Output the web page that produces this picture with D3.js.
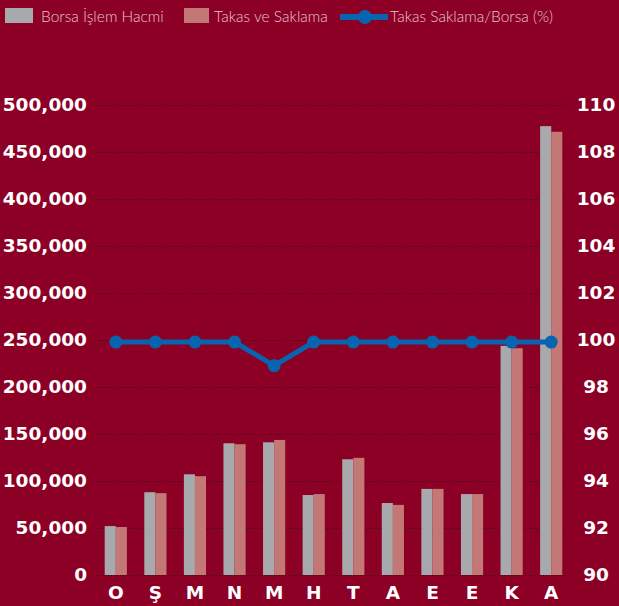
<!DOCTYPE html>
<html>
<head>
<meta charset="utf-8">
<script src="https://cdn.jsdelivr.net/npm/d3@7"></script>
<style>
  body { margin: 0; background: #8c0026; }
  svg { display: block; }
</style>
</head>
<body>
<div id="chart"></div>
<script>
// Chart data
var months = ["O", "Ş", "M", "N", "M", "H", "T", "A", "E", "E", "K", "A"];
var borsa = [52000, 88000, 107000, 140000, 141000, 85000, 123000, 76500, 91500, 86000, 243500, 477000];
var takas = [51000, 87000, 105000, 139000, 143500, 86000, 124500, 74500, 91500, 86000, 241000, 471000];
var ratio = [99.9, 99.9, 99.9, 99.9, 98.9, 99.9, 99.9, 99.9, 99.9, 99.9, 99.9, 99.9];
var leftTicks = [0, 50000, 100000, 150000, 200000, 250000, 300000, 350000, 400000, 450000, 500000];
var rightTicks = [90, 92, 94, 96, 98, 100, 102, 104, 106, 108, 110];
var seriesNames = ["Borsa İşlem Hacmi", "Takas ve Saklama", "Takas Saklama/Borsa (%)"];

var svgWidth = 619;
var svgHeight = 606;

var bg = "#8c0026";
var grayColor = "#a7a9ac";
var pinkColor = "#c47876";
var blueColor = "#0765b0";

var svg = d3.select("#chart").append("svg")
  .attr("width", svgWidth)
  .attr("height", svgHeight);

svg.append("rect")
  .attr("width", svgWidth)
  .attr("height", svgHeight)
  .attr("fill", bg);

// scales
var plotLeft = 96, plotRight = 566;
var x0 = d3.scaleBand()
  .domain(d3.range(months.length))
  .range([96, 571])
  .paddingInner(0.44)
  .paddingOuter(0.22);

var x1 = d3.scaleBand()
  .domain([0, 1])
  .range([0, x0.bandwidth()]);

var yLeft = d3.scaleLinear().domain([0, 500000]).range([575, 104.5]);
var yRight = d3.scaleLinear().domain([90, 110]).range([575, 104.5]);

// gridlines (dotted)
svg.append("g")
  .selectAll("line")
  .data(leftTicks)
  .enter()
  .append("line")
  .attr("x1", plotLeft)
  .attr("x2", plotRight)
  .attr("y1", d => Math.round(yLeft(d)) + 0.5)
  .attr("y2", d => Math.round(yLeft(d)) + 0.5)
  .attr("stroke", "#2e1016")
  .attr("stroke-width", 1)
  .attr("stroke-dasharray", "1,2");

// left axis
var leftAxis = d3.axisLeft(yLeft)
  .tickValues(leftTicks)
  .tickSize(0)
  .tickPadding(0)
  .tickFormat(d3.format(","));

var gLeft = svg.append("g")
  .attr("transform", "translate(87,0)")
  .call(leftAxis);
gLeft.select(".domain").remove();
gLeft.selectAll("text")
  .attr("fill", "#ffffff")
  .attr("font-family", "DejaVu Sans")
  .attr("font-weight", "bold")
  .attr("font-size", 18.5);

// right axis
var rightAxis = d3.axisRight(yRight)
  .tickValues(rightTicks)
  .tickSize(0)
  .tickPadding(0);

var gRight = svg.append("g")
  .attr("transform", "translate(596,0)")
  .call(rightAxis);
gRight.select(".domain").remove();
gRight.selectAll("text")
  .attr("text-anchor", "middle")
  .attr("fill", "#ffffff")
  .attr("font-family", "DejaVu Sans")
  .attr("font-weight", "bold")
  .attr("font-size", 18.5);

// bars
var groups = svg.append("g")
  .selectAll("g")
  .data(months.map((m, i) => i))
  .enter()
  .append("g")
  .attr("transform", d => `translate(${x0(d)},0)`);

groups.append("rect")
  .attr("x", x1(0))
  .attr("width", x1.bandwidth())
  .attr("y", d => yLeft(borsa[d]))
  .attr("height", d => yLeft(0) - yLeft(borsa[d]))
  .attr("fill", grayColor);

groups.append("rect")
  .attr("x", x1(1))
  .attr("width", x1.bandwidth())
  .attr("y", d => yLeft(takas[d]))
  .attr("height", d => yLeft(0) - yLeft(takas[d]))
  .attr("fill", pinkColor);

// x labels
var bottomAxis = d3.axisBottom(x0)
  .tickSize(0)
  .tickPadding(0)
  .tickFormat(i => months[i]);

var gBottom = svg.append("g")
  .attr("transform", "translate(0,586)")
  .call(bottomAxis);
gBottom.select(".domain").remove();
gBottom.selectAll("text")
  .attr("dy", "0.71em")
  .attr("fill", "#ffffff")
  .attr("font-family", "DejaVu Sans")
  .attr("font-weight", "bold")
  .attr("font-size", 18.5);

// ratio line
var line = d3.line()
  .x((d, i) => x0(i) + x0.bandwidth() / 2)
  .y(d => yRight(d));

svg.append("path")
  .datum(ratio)
  .attr("d", line)
  .attr("fill", "none")
  .attr("stroke", blueColor)
  .attr("stroke-width", 5);

svg.append("g")
  .selectAll("circle")
  .data(ratio)
  .enter()
  .append("circle")
  .attr("cx", (d, i) => x0(i) + x0.bandwidth() / 2)
  .attr("cy", d => yRight(d))
  .attr("r", 6.5)
  .attr("fill", blueColor);

// legend
var legend = svg.append("g");
var legendText = "#e9c4cf";

legend.append("rect")
  .attr("x", 5).attr("y", 8).attr("width", 28).attr("height", 15)
  .attr("fill", grayColor);
legend.append("text")
  .attr("x", 41).attr("y", 21.5)
  .text(seriesNames[0]);

legend.append("rect")
  .attr("x", 184).attr("y", 8).attr("width", 25).attr("height", 15)
  .attr("fill", pinkColor);
legend.append("text")
  .attr("x", 214).attr("y", 21.5)
  .text(seriesNames[1]);

legend.append("line")
  .attr("x1", 340).attr("x2", 388)
  .attr("y1", 17).attr("y2", 17)
  .attr("stroke", blueColor)
  .attr("stroke-width", 6);
legend.append("circle")
  .attr("cx", 365).attr("cy", 17).attr("r", 7)
  .attr("fill", blueColor);
legend.append("text")
  .attr("x", 390).attr("y", 21.5)
  .text(seriesNames[2]);

legend.selectAll("text")
  .attr("fill", legendText)
  .attr("font-family", "Lato")
  .attr("font-weight", 300)
  .attr("font-size", 15.5);
</script>
</body>
</html>
